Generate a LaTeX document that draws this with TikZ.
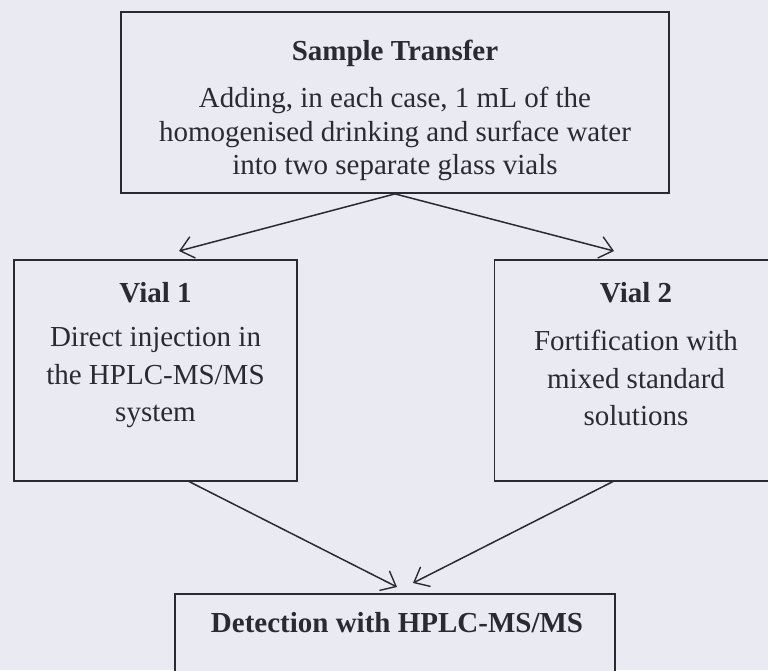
\documentclass[tikz,border=0pt]{standalone}
\usepackage{fontspec}
\setmainfont{Liberation Serif}
\usepackage{xcolor}
\usetikzlibrary{arrows.meta}
\definecolor{paper}{RGB}{233,234,242}
\definecolor{ink}{RGB}{42,42,50}

\begin{document}
\begin{tikzpicture}[x=1pt,y=-1pt]
\tikzset{>={Straight Barb[length=13pt,width=22pt,line width=1.4pt]}}
\tikzstyle{box} =[draw=ink,line width=1.8pt,fill=paper,inner sep=0pt]
\tikzstyle{head} =[text=ink,font=\fontsize{29}{33}\selectfont\bfseries,inner sep=0pt]
\tikzstyle{body} =[text=ink,align=center,font=\fontsize{29}{35}\selectfont,inner sep=0pt]
\fill[paper] (0,0) rectangle (768,670);
\useasboundingbox (0,0) rectangle (768,670);

\node[box,minimum width=548pt,minimum height=181pt](transfer) at (395,102.5){};
\node[box,minimum width=283pt,minimum height=221pt](vial1) at (155.5,370.5){};
\node[box,minimum width=283pt,minimum height=221pt](vial2) at (636,370.5){};
\node[box,minimum width=440pt,minimum height=160pt,anchor=north](detect) at (395,593){};

\node[head](ht) at (395,53){Sample Transfer};
\node[body,font=\fontsize{29}{33.5}\selectfont](bt) at (395,134){Adding, in each case, 1 mL of the\\homogenised drinking and surface water\\into two separate glass vials};
\node[head](h1) at (155.5,293){Vial 1};
\node[body,font=\fontsize{29}{37.5}\selectfont](b1) at (155.5,378){Direct injection in\\the HPLC-MS/MS\\system};
\node[head](h2) at (636,293){Vial 2};
\node[body,font=\fontsize{29}{37.5}\selectfont](b2) at (636,378){Fortification with\\mixed standard\\solutions};
\node[head](hd) at (397,623){Detection with HPLC-MS/MS};

\coordinate (v1in) at (179,251);
\coordinate (v2in) at (614,251);
\coordinate (v1out) at (188,481);
\coordinate (v2out) at (614,481);
\coordinate (din1) at (397,587);
\coordinate (din2) at (413,583);

\draw [->,line width=1.5pt,ink] (transfer.south) to (v1in);
\draw [->,line width=1.5pt,ink] (transfer.south) to (v2in);
\draw [->,line width=1.5pt,ink] (v1out) to (din1);
\draw [->,line width=1.5pt,ink] (v2out) to (din2);
\end{tikzpicture}
\end{document}
